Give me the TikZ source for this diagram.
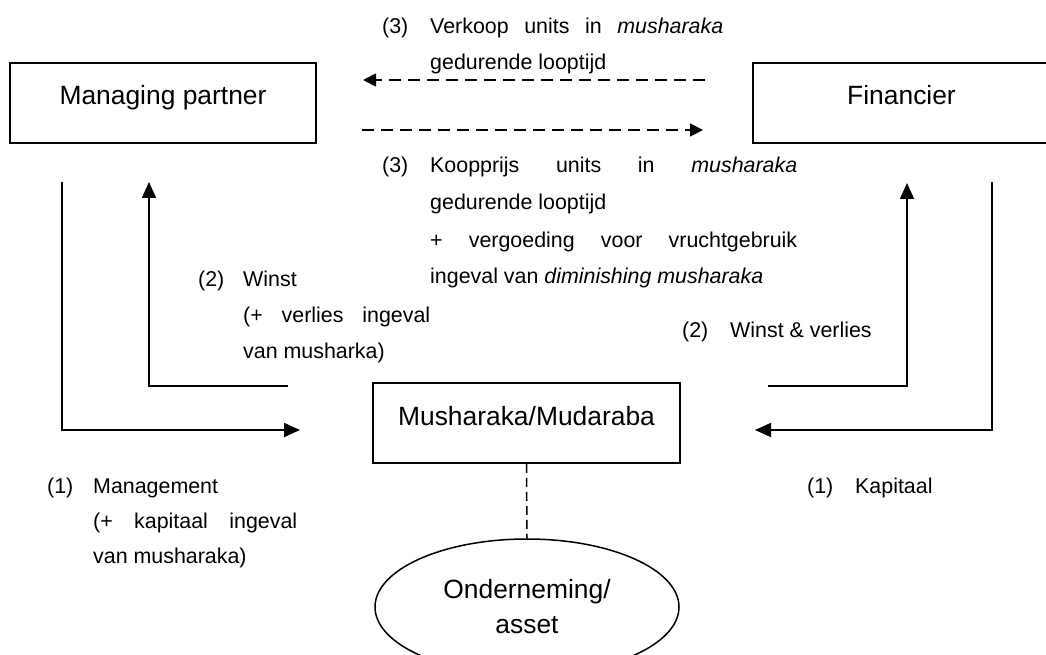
\documentclass[tikz,border=0pt]{standalone}
\usepackage{fontspec}
\setmainfont{Liberation Sans}
\usetikzlibrary{arrows.meta,shapes.geometric}
\newcommand\bigtxt{\fontsize{26.4}{35}\selectfont}
\newcommand\smalltxt{\fontsize{21.4}{25}\selectfont}
\begin{document}
\begin{tikzpicture}[x=1pt,y=-1pt,
  box/.style={draw, line width=1.8pt, inner sep=0pt, text height=19pt,
    text depth=15pt, minimum height=80pt, font=\bigtxt},
  blob/.style={draw, ellipse, line width=1.5pt, inner sep=0pt,
    minimum width=304pt, minimum height=136pt, align=center, font=\bigtxt},
  lbl/.style={anchor=base west, inner sep=0pt, font=\smalltxt},
  flow/.style={line width=1.8pt, -{Triangle[length=16pt,width=14pt]}},
  dflow/.style={line width=1.8pt, dash pattern=on 12pt off 7pt,
    -{Triangle[length=13pt,width=13pt]}},
  link/.style={line width=1.5pt, dash pattern=on 9pt off 5pt}]
\useasboundingbox (0,0) rectangle (1046,655);
\clip (0,0) rectangle (1046,655);

% parties and the partnership
\node[box, minimum width=306pt] (mp) at (163,103) {Managing partner};
\node[box, minimum width=297pt] (fin) at (901.5,103) {Financier};
\node[box, minimum width=307pt] (mm) at (526.5,423) {Musharaka/Mudaraba};
\node[blob] (ond) at (527,607) {Onderneming/\\asset};
\draw[link] (mm.south) -- (ond.north);

% sale of units (3)
\coordinate (sellS) at (705,80);
\coordinate (sellE) at (363,80);
\coordinate (buyS) at (362,130);
\coordinate (buyE) at (703,130);
\draw[dflow] (sellS) -- (sellE);
\draw[dflow] (buyS) -- (buyE);

% contributions (1) and returns (2)
\coordinate (mgmtS) at (62,182);
\coordinate (mgmtE) at (300,430);
\coordinate (winLS) at (288,386);
\coordinate (winLE) at (149,182);
\coordinate (winRS) at (768,386);
\coordinate (winRE) at (907,183);
\coordinate (capS) at (992,182);
\coordinate (capE) at (755,430);
\draw[flow] (mgmtS) |- (mgmtE);
\draw[flow] (winLS) -| (winLE);
\draw[flow] (winRS) -| (winRE);
\draw[flow] (capS) |- (capE);

% labels of the sale of units
\node[lbl] (sA) at (382,34) {(3)};
\node[lbl] (sB) at (430,34) {\hbox to 293pt{Verkoop\hfill units\hfill in\hfill\textit{musharaka}}};
\node[lbl] (sC) at (430,70) {gedurende looptijd};

\node[lbl] (kA) at (382,173) {(3)};
\node[lbl] (kB) at (430,173) {\hbox to 367pt{Koopprijs\hfill units\hfill in\hfill\textit{musharaka}}};
\node[lbl] (kC) at (430,210) {gedurende looptijd};
\node[lbl] (kD) at (430,247) {\hbox to 367pt{+\hfill vergoeding\hfill voor\hfill vruchtgebruik}};
\node[lbl] (kE) at (430,283) {ingeval van \textit{diminishing musharaka}};

% labels of profit and loss
\node[lbl] (wA) at (198,286) {(2)};
\node[lbl] (wB) at (243,286) {Winst};
\node[lbl] (wC) at (243,322) {\hbox to 187pt{(+\hfill verlies\hfill ingeval}};
\node[lbl] (wD) at (243,358) {van musharka)};

\node[lbl] (vA) at (682,337) {(2)};
\node[lbl] (vB) at (730,337) {Winst \& verlies};

% labels of the contributions
\node[lbl] (mA) at (47,493) {(1)};
\node[lbl] (mB) at (93,493) {Management};
\node[lbl] (mC) at (93,528) {\hbox to 204pt{(+\hfill kapitaal\hfill ingeval}};
\node[lbl] (mD) at (93,563) {van musharaka)};

\node[lbl] (cA) at (807,493) {(1)};
\node[lbl] (cB) at (855,493) {Kapitaal};
\end{tikzpicture}
\end{document}
